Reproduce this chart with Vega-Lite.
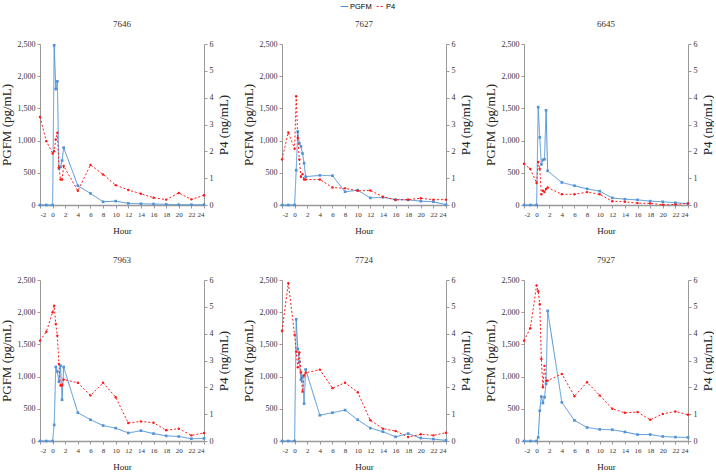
{
  "$schema": "https://vega.github.io/schema/vega-lite/v6.json",
  "padding": {"left": 0, "top": 2, "right": 0, "bottom": 0},
  "data": {"values": [
    {"animal":"7646","hour":-2,"pgfm":0,"p4":3.28},{"animal":"7646","hour":-1,"pgfm":0,"p4":2.38},{"animal":"7646","hour":0,"pgfm":0,"p4":1.92},{"animal":"7646","hour":0.25,"pgfm":2480,"p4":2.0},{"animal":"7646","hour":0.5,"pgfm":1800,"p4":2.44},{"animal":"7646","hour":0.75,"pgfm":1920,"p4":2.69},{"animal":"7646","hour":1,"pgfm":570,"p4":1.4},{"animal":"7646","hour":1.25,"pgfm":590,"p4":0.95},{"animal":"7646","hour":1.5,"pgfm":690,"p4":0.95},{"animal":"7646","hour":1.75,"pgfm":890,"p4":1.45},{"animal":"7646","hour":4,"pgfm":300,"p4":0.53},{"animal":"7646","hour":6,"pgfm":180,"p4":1.49},{"animal":"7646","hour":8,"pgfm":50,"p4":1.14},{"animal":"7646","hour":10,"pgfm":60,"p4":0.74},{"animal":"7646","hour":12,"pgfm":25,"p4":0.56},{"animal":"7646","hour":14,"pgfm":20,"p4":0.42},{"animal":"7646","hour":16,"pgfm":15,"p4":0.27},{"animal":"7646","hour":18,"pgfm":10,"p4":0.2},{"animal":"7646","hour":20,"pgfm":5,"p4":0.45},{"animal":"7646","hour":22,"pgfm":5,"p4":0.21},{"animal":"7646","hour":24,"pgfm":5,"p4":0.36},
    {"animal":"7627","hour":-2,"pgfm":0,"p4":1.7},{"animal":"7627","hour":-1,"pgfm":0,"p4":2.7},{"animal":"7627","hour":0,"pgfm":0,"p4":2.1},{"animal":"7627","hour":0.25,"pgfm":540,"p4":4.05},{"animal":"7627","hour":0.5,"pgfm":1140,"p4":2.5},{"animal":"7627","hour":0.75,"pgfm":960,"p4":1.7},{"animal":"7627","hour":1,"pgfm":910,"p4":1.05},{"animal":"7627","hour":1.25,"pgfm":800,"p4":1.15},{"animal":"7627","hour":1.5,"pgfm":650,"p4":0.95},{"animal":"7627","hour":1.75,"pgfm":440,"p4":0.95},{"animal":"7627","hour":4,"pgfm":460,"p4":0.95},{"animal":"7627","hour":6,"pgfm":455,"p4":0.65},{"animal":"7627","hour":8,"pgfm":205,"p4":0.62},{"animal":"7627","hour":10,"pgfm":230,"p4":0.53},{"animal":"7627","hour":12,"pgfm":110,"p4":0.54},{"animal":"7627","hour":14,"pgfm":120,"p4":0.31},{"animal":"7627","hour":16,"pgfm":85,"p4":0.19},{"animal":"7627","hour":18,"pgfm":80,"p4":0.2},{"animal":"7627","hour":20,"pgfm":60,"p4":0.25},{"animal":"7627","hour":22,"pgfm":50,"p4":0.2},{"animal":"7627","hour":24,"pgfm":5,"p4":0.2},
    {"animal":"6645","hour":-2,"pgfm":0,"p4":1.54},{"animal":"6645","hour":-1,"pgfm":0,"p4":1.34},{"animal":"6645","hour":0,"pgfm":0,"p4":0.82},{"animal":"6645","hour":0.25,"pgfm":1520,"p4":1.6},{"animal":"6645","hour":0.5,"pgfm":1050,"p4":1.35},{"animal":"6645","hour":0.75,"pgfm":630,"p4":0.4},{"animal":"6645","hour":1,"pgfm":700,"p4":0.53},{"animal":"6645","hour":1.25,"pgfm":710,"p4":0.48},{"animal":"6645","hour":1.5,"pgfm":1470,"p4":0.6},{"animal":"6645","hour":1.75,"pgfm":530,"p4":0.65},{"animal":"6645","hour":4,"pgfm":350,"p4":0.4},{"animal":"6645","hour":6,"pgfm":300,"p4":0.4},{"animal":"6645","hour":8,"pgfm":250,"p4":0.48},{"animal":"6645","hour":10,"pgfm":215,"p4":0.4},{"animal":"6645","hour":12,"pgfm":110,"p4":0.14},{"animal":"6645","hour":14,"pgfm":90,"p4":0.12},{"animal":"6645","hour":16,"pgfm":80,"p4":0.07},{"animal":"6645","hour":18,"pgfm":60,"p4":0.06},{"animal":"6645","hour":20,"pgfm":50,"p4":0.01},{"animal":"6645","hour":22,"pgfm":35,"p4":0.02},{"animal":"6645","hour":24,"pgfm":20,"p4":0.06},
    {"animal":"7963","hour":-2,"pgfm":0,"p4":3.74},{"animal":"7963","hour":-1,"pgfm":0,"p4":4.07},{"animal":"7963","hour":0,"pgfm":0,"p4":4.8},{"animal":"7963","hour":0.25,"pgfm":250,"p4":5.04},{"animal":"7963","hour":0.5,"pgfm":1150,"p4":4.36},{"animal":"7963","hour":0.75,"pgfm":1080,"p4":3.92},{"animal":"7963","hour":1,"pgfm":920,"p4":2.87},{"animal":"7963","hour":1.25,"pgfm":1170,"p4":2.07},{"animal":"7963","hour":1.5,"pgfm":640,"p4":2.07},{"animal":"7963","hour":1.75,"pgfm":1150,"p4":2.29},{"animal":"7963","hour":4,"pgfm":440,"p4":2.17},{"animal":"7963","hour":6,"pgfm":330,"p4":1.7},{"animal":"7963","hour":8,"pgfm":240,"p4":2.17},{"animal":"7963","hour":10,"pgfm":200,"p4":1.63},{"animal":"7963","hour":12,"pgfm":125,"p4":0.67},{"animal":"7963","hour":14,"pgfm":160,"p4":0.73},{"animal":"7963","hour":16,"pgfm":115,"p4":0.68},{"animal":"7963","hour":18,"pgfm":80,"p4":0.4},{"animal":"7963","hour":20,"pgfm":70,"p4":0.46},{"animal":"7963","hour":22,"pgfm":35,"p4":0.21},{"animal":"7963","hour":24,"pgfm":40,"p4":0.3},
    {"animal":"7724","hour":-2,"pgfm":0,"p4":4.1},{"animal":"7724","hour":-1,"pgfm":0,"p4":5.88},{"animal":"7724","hour":0,"pgfm":0,"p4":3.95},{"animal":"7724","hour":0.25,"pgfm":1890,"p4":3.33},{"animal":"7724","hour":0.5,"pgfm":1430,"p4":2.75},{"animal":"7724","hour":0.75,"pgfm":1230,"p4":3.3},{"animal":"7724","hour":1,"pgfm":950,"p4":2.56},{"animal":"7724","hour":1.25,"pgfm":1010,"p4":1.84},{"animal":"7724","hour":1.5,"pgfm":580,"p4":2.44},{"animal":"7724","hour":1.75,"pgfm":1110,"p4":2.54},{"animal":"7724","hour":4,"pgfm":400,"p4":2.66},{"animal":"7724","hour":6,"pgfm":440,"p4":1.97},{"animal":"7724","hour":8,"pgfm":480,"p4":2.17},{"animal":"7724","hour":10,"pgfm":330,"p4":1.82},{"animal":"7724","hour":12,"pgfm":200,"p4":0.77},{"animal":"7724","hour":14,"pgfm":145,"p4":0.46},{"animal":"7724","hour":16,"pgfm":65,"p4":0.37},{"animal":"7724","hour":18,"pgfm":115,"p4":0.15},{"animal":"7724","hour":20,"pgfm":45,"p4":0.25},{"animal":"7724","hour":22,"pgfm":30,"p4":0.21},{"animal":"7724","hour":24,"pgfm":10,"p4":0.31},
    {"animal":"7927","hour":-2,"pgfm":0,"p4":3.74},{"animal":"7927","hour":-1,"pgfm":0,"p4":4.2},{"animal":"7927","hour":0,"pgfm":0,"p4":5.8},{"animal":"7927","hour":0.25,"pgfm":55,"p4":5.58},{"animal":"7927","hour":0.5,"pgfm":470,"p4":5.1},{"animal":"7927","hour":0.75,"pgfm":690,"p4":3.06},{"animal":"7927","hour":1,"pgfm":590,"p4":2.0},{"animal":"7927","hour":1.25,"pgfm":680,"p4":2.8},{"animal":"7927","hour":1.5,"pgfm":890,"p4":2.25},{"animal":"7927","hour":1.75,"pgfm":2020,"p4":2.25},{"animal":"7927","hour":4,"pgfm":600,"p4":2.5},{"animal":"7927","hour":6,"pgfm":320,"p4":1.67},{"animal":"7927","hour":8,"pgfm":210,"p4":2.19},{"animal":"7927","hour":10,"pgfm":180,"p4":1.7},{"animal":"7927","hour":12,"pgfm":175,"p4":1.2},{"animal":"7927","hour":14,"pgfm":140,"p4":1.05},{"animal":"7927","hour":16,"pgfm":100,"p4":1.08},{"animal":"7927","hour":18,"pgfm":100,"p4":0.79},{"animal":"7927","hour":20,"pgfm":70,"p4":1.01},{"animal":"7927","hour":22,"pgfm":60,"p4":1.1},{"animal":"7927","hour":24,"pgfm":55,"p4":0.98}
  ]},
  "columns": 3,
  "spacing": {"row": 21, "column": 12},
  "resolve": {"scale": {"color": "shared", "strokeDash": "shared"}},
  "config": {
    "font": "Liberation Serif",
    "view": {"stroke": null},
    "axis": {"grid": false, "labelFont": "Liberation Serif", "labelFontSize": 8, "labelColor": "#333333", "titleFont": "Liberation Serif", "titleFontWeight": "normal", "titleColor": "#222222", "domainColor": "#999999", "tickColor": "#999999", "tickSize": 3, "labelPadding": 2, "labelOverlap": false},
    "axisY": {"titleFontSize": 13, "titlePadding": 4},
    "axisX": {"titleFontSize": 9, "titlePadding": 9, "domainWidth": 1.5, "labelFontSize": 7, "labelOverlap": false, "labelSeparation": 0},
    "axisQuantitative": {"labelOverlap": false},
    "title": {"font": "Liberation Serif", "fontSize": 9, "fontWeight": "normal", "color": "#333333", "offset": 11},
    "legend": {"labelFont": "Liberation Sans", "labelFontSize": 7.5, "symbolStrokeWidth": 1.2, "symbolSize": 60, "columnPadding": 2, "labelOffset": 1, "padding": 0}
  },
  "concat": [
    {"title": "7646", "width": 164, "height": 161, "transform": [{"filter": "datum.animal == '7646'"}],
     "layer": [
      {"mark": {"type": "line", "strokeWidth": 1, "point": {"filled": true, "size": 7, "shape": "square"}},
       "encoding": {"x": {"field": "hour", "type": "quantitative", "scale": {"domain": [-2, 24], "nice": false}, "axis": {"values": [-2,0,2,4,6,8,10,12,14,16,18,20,22,24], "labelOverlap": false, "labelExpr": "datum.value < 0 ? '-' + abs(datum.value) : '' + datum.value", "title": "Hour"}},
        "y": {"field": "pgfm", "type": "quantitative", "scale": {"domain": [0, 2500]}, "axis": {"values": [0,500,1000,1500,2000,2500], "format": ",.0f", "title": "PGFM (pg/mL)"}},
        "color": {"datum": "PGFM", "scale": {"domain": ["PGFM", "P4"], "range": ["#4F93D6", "#FF1A1A"]}, "legend": {"orient": "none", "legendX": 300, "legendY": -42, "direction": "horizontal", "title": null, "symbolType": "stroke"}},
        "strokeDash": {"datum": "PGFM", "scale": {"domain": ["PGFM", "P4"], "range": [[1, 0], [2, 2]]}, "legend": {"orient": "none", "legendX": 300, "legendY": -42, "direction": "horizontal", "title": null, "symbolType": "stroke"}}}},
      {"mark": {"type": "line", "strokeWidth": 1, "point": {"filled": true, "size": 6, "shape": "circle"}},
       "encoding": {"x": {"field": "hour", "type": "quantitative", "axis": {"values": [-2,0,2,4,6,8,10,12,14,16,18,20,22,24], "labelOverlap": false, "labelExpr": "datum.value < 0 ? '-' + abs(datum.value) : '' + datum.value", "title": "Hour"}},
        "y": {"field": "p4", "type": "quantitative", "scale": {"domain": [0, 6]}, "axis": {"orient": "right", "values": [0,1,2,3,4,5,6], "title": "P4 (ng/mL)", "titleAngle": 270, "titleBaseline": "top"}},
        "color": {"datum": "P4"},
        "strokeDash": {"datum": "P4"}}}
     ],
     "resolve": {"scale": {"y": "independent"}}},
    {"title": "7627", "width": 164, "height": 161, "transform": [{"filter": "datum.animal == '7627'"}],
     "layer": [
      {"mark": {"type": "line", "strokeWidth": 1, "point": {"filled": true, "size": 7, "shape": "square"}},
       "encoding": {"x": {"field": "hour", "type": "quantitative", "scale": {"domain": [-2, 24], "nice": false}, "axis": {"values": [-2,0,2,4,6,8,10,12,14,16,18,20,22,24], "labelOverlap": false, "labelExpr": "datum.value < 0 ? '-' + abs(datum.value) : '' + datum.value", "title": "Hour"}},
        "y": {"field": "pgfm", "type": "quantitative", "scale": {"domain": [0, 2500]}, "axis": {"values": [0,500,1000,1500,2000,2500], "format": ",.0f", "title": "PGFM (pg/mL)"}},
        "color": {"datum": "PGFM"}, "strokeDash": {"datum": "PGFM"}}},
      {"mark": {"type": "line", "strokeWidth": 1, "point": {"filled": true, "size": 6, "shape": "circle"}},
       "encoding": {"x": {"field": "hour", "type": "quantitative", "axis": {"values": [-2,0,2,4,6,8,10,12,14,16,18,20,22,24], "labelOverlap": false, "labelExpr": "datum.value < 0 ? '-' + abs(datum.value) : '' + datum.value", "title": "Hour"}},
        "y": {"field": "p4", "type": "quantitative", "scale": {"domain": [0, 6]}, "axis": {"orient": "right", "values": [0,1,2,3,4,5,6], "title": "P4 (ng/mL)", "titleAngle": 270, "titleBaseline": "top"}},
        "color": {"datum": "P4"}, "strokeDash": {"datum": "P4"}}}
     ],
     "resolve": {"scale": {"y": "independent"}}},
    {"title": "6645", "width": 164, "height": 161, "transform": [{"filter": "datum.animal == '6645'"}],
     "layer": [
      {"mark": {"type": "line", "strokeWidth": 1, "point": {"filled": true, "size": 7, "shape": "square"}},
       "encoding": {"x": {"field": "hour", "type": "quantitative", "scale": {"domain": [-2, 24], "nice": false}, "axis": {"values": [-2,0,2,4,6,8,10,12,14,16,18,20,22,24], "labelOverlap": false, "labelExpr": "datum.value < 0 ? '-' + abs(datum.value) : '' + datum.value", "title": "Hour"}},
        "y": {"field": "pgfm", "type": "quantitative", "scale": {"domain": [0, 2500]}, "axis": {"values": [0,500,1000,1500,2000,2500], "format": ",.0f", "title": "PGFM (pg/mL)"}},
        "color": {"datum": "PGFM"}, "strokeDash": {"datum": "PGFM"}}},
      {"mark": {"type": "line", "strokeWidth": 1, "point": {"filled": true, "size": 6, "shape": "circle"}},
       "encoding": {"x": {"field": "hour", "type": "quantitative", "axis": {"values": [-2,0,2,4,6,8,10,12,14,16,18,20,22,24], "labelOverlap": false, "labelExpr": "datum.value < 0 ? '-' + abs(datum.value) : '' + datum.value", "title": "Hour"}},
        "y": {"field": "p4", "type": "quantitative", "scale": {"domain": [0, 6]}, "axis": {"orient": "right", "values": [0,1,2,3,4,5,6], "title": "P4 (ng/mL)", "titleAngle": 270, "titleBaseline": "top"}},
        "color": {"datum": "P4"}, "strokeDash": {"datum": "P4"}}}
     ],
     "resolve": {"scale": {"y": "independent"}}},
    {"title": "7963", "width": 164, "height": 161, "transform": [{"filter": "datum.animal == '7963'"}],
     "layer": [
      {"mark": {"type": "line", "strokeWidth": 1, "point": {"filled": true, "size": 7, "shape": "square"}},
       "encoding": {"x": {"field": "hour", "type": "quantitative", "scale": {"domain": [-2, 24], "nice": false}, "axis": {"values": [-2,0,2,4,6,8,10,12,14,16,18,20,22,24], "labelOverlap": false, "labelExpr": "datum.value < 0 ? '-' + abs(datum.value) : '' + datum.value", "title": "Hour"}},
        "y": {"field": "pgfm", "type": "quantitative", "scale": {"domain": [0, 2500]}, "axis": {"values": [0,500,1000,1500,2000,2500], "format": ",.0f", "title": "PGFM (pg/mL)"}},
        "color": {"datum": "PGFM"}, "strokeDash": {"datum": "PGFM"}}},
      {"mark": {"type": "line", "strokeWidth": 1, "point": {"filled": true, "size": 6, "shape": "circle"}},
       "encoding": {"x": {"field": "hour", "type": "quantitative", "axis": {"values": [-2,0,2,4,6,8,10,12,14,16,18,20,22,24], "labelOverlap": false, "labelExpr": "datum.value < 0 ? '-' + abs(datum.value) : '' + datum.value", "title": "Hour"}},
        "y": {"field": "p4", "type": "quantitative", "scale": {"domain": [0, 6]}, "axis": {"orient": "right", "values": [0,1,2,3,4,5,6], "title": "P4 (ng/mL)", "titleAngle": 270, "titleBaseline": "top"}},
        "color": {"datum": "P4"}, "strokeDash": {"datum": "P4"}}}
     ],
     "resolve": {"scale": {"y": "independent"}}},
    {"title": "7724", "width": 164, "height": 161, "transform": [{"filter": "datum.animal == '7724'"}],
     "layer": [
      {"mark": {"type": "line", "strokeWidth": 1, "point": {"filled": true, "size": 7, "shape": "square"}},
       "encoding": {"x": {"field": "hour", "type": "quantitative", "scale": {"domain": [-2, 24], "nice": false}, "axis": {"values": [-2,0,2,4,6,8,10,12,14,16,18,20,22,24], "labelOverlap": false, "labelExpr": "datum.value < 0 ? '-' + abs(datum.value) : '' + datum.value", "title": "Hour"}},
        "y": {"field": "pgfm", "type": "quantitative", "scale": {"domain": [0, 2500]}, "axis": {"values": [0,500,1000,1500,2000,2500], "format": ",.0f", "title": "PGFM (pg/mL)"}},
        "color": {"datum": "PGFM"}, "strokeDash": {"datum": "PGFM"}}},
      {"mark": {"type": "line", "strokeWidth": 1, "point": {"filled": true, "size": 6, "shape": "circle"}},
       "encoding": {"x": {"field": "hour", "type": "quantitative", "axis": {"values": [-2,0,2,4,6,8,10,12,14,16,18,20,22,24], "labelOverlap": false, "labelExpr": "datum.value < 0 ? '-' + abs(datum.value) : '' + datum.value", "title": "Hour"}},
        "y": {"field": "p4", "type": "quantitative", "scale": {"domain": [0, 6]}, "axis": {"orient": "right", "values": [0,1,2,3,4,5,6], "title": "P4 (ng/mL)", "titleAngle": 270, "titleBaseline": "top"}},
        "color": {"datum": "P4"}, "strokeDash": {"datum": "P4"}}}
     ],
     "resolve": {"scale": {"y": "independent"}}},
    {"title": "7927", "width": 164, "height": 161, "transform": [{"filter": "datum.animal == '7927'"}],
     "layer": [
      {"mark": {"type": "line", "strokeWidth": 1, "point": {"filled": true, "size": 7, "shape": "square"}},
       "encoding": {"x": {"field": "hour", "type": "quantitative", "scale": {"domain": [-2, 24], "nice": false}, "axis": {"values": [-2,0,2,4,6,8,10,12,14,16,18,20,22,24], "labelOverlap": false, "labelExpr": "datum.value < 0 ? '-' + abs(datum.value) : '' + datum.value", "title": "Hour"}},
        "y": {"field": "pgfm", "type": "quantitative", "scale": {"domain": [0, 2500]}, "axis": {"values": [0,500,1000,1500,2000,2500], "format": ",.0f", "title": "PGFM (pg/mL)"}},
        "color": {"datum": "PGFM"}, "strokeDash": {"datum": "PGFM"}}},
      {"mark": {"type": "line", "strokeWidth": 1, "point": {"filled": true, "size": 6, "shape": "circle"}},
       "encoding": {"x": {"field": "hour", "type": "quantitative", "axis": {"values": [-2,0,2,4,6,8,10,12,14,16,18,20,22,24], "labelOverlap": false, "labelExpr": "datum.value < 0 ? '-' + abs(datum.value) : '' + datum.value", "title": "Hour"}},
        "y": {"field": "p4", "type": "quantitative", "scale": {"domain": [0, 6]}, "axis": {"orient": "right", "values": [0,1,2,3,4,5,6], "title": "P4 (ng/mL)", "titleAngle": 270, "titleBaseline": "top"}},
        "color": {"datum": "P4"}, "strokeDash": {"datum": "P4"}}}
     ],
     "resolve": {"scale": {"y": "independent"}}}
  ]
}
